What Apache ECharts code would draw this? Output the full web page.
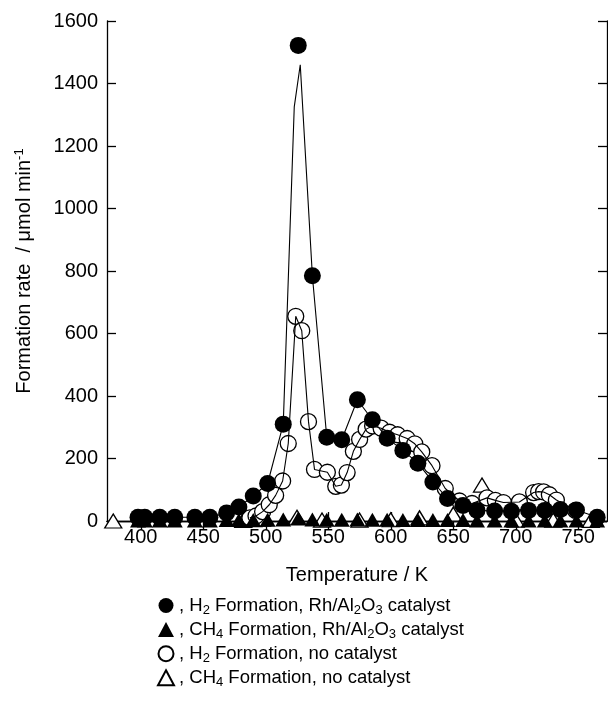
<!DOCTYPE html>
<html>
<head>
<meta charset="utf-8">
<script src="https://cdn.jsdelivr.net/npm/echarts@6/dist/echarts.min.js"></script>
<style>
html, body { margin: 0; padding: 0; background: #fff; }
#chart { width: 608px; height: 709px; }
</style>
</head>
<body>
<div id="chart"></div>
<script>
// H2 formation, Rh/Al2O3 catalyst (filled circles)
var h2CatT = [397.8, 403.2, 415.2, 427.2, 443.3, 455.3, 468.7, 478.5, 490, 501.5, 514, 526, 537.3, 548.8, 560.8, 573.3, 585.3, 597.1, 609.7, 621.7, 633.7, 645.4, 657.8, 669, 683.1, 696.5, 710.3, 723.2, 735.7, 748.6, 765.1];
var h2CatV = [12, 12, 12, 12, 12, 12, 26, 45, 80, 120, 310, 1522, 785, 268, 260, 388, 324, 265, 226, 185, 125, 72, 50, 34, 32, 31, 34, 34, 37, 35, 12];
// the drawn line for that series: its peak sits below the marker
var h2CatLineT = [397.8, 403.2, 415.2, 427.2, 443.3, 455.3, 468.7, 478.5, 490, 501.5, 514, 522.8, 527.6, 537.3, 548.8, 560.8, 573.3, 585.3, 597.1, 609.7, 621.7, 633.7, 645.4, 657.8, 669, 683.1, 696.5, 710.3, 723.2, 735.7, 748.6, 765.1];
var h2CatLineV = [12, 12, 12, 12, 12, 12, 26, 45, 80, 120, 310, 1325, 1460, 785, 268, 260, 388, 324, 265, 226, 185, 125, 72, 50, 34, 32, 31, 34, 34, 37, 35, 12];

// CH4 formation, Rh/Al2O3 catalyst (filled triangles), same temperatures
var ch4CatV = [2, 2, 2, 2, 2, 2, 3, 3, 3, 4, 5, 8, 5, 4, 4, 5, 4, 4, 3, 3, 3, 3, 3, 2, 2, 2, 2, 2, 2, 2, 2];

// H2 formation, no catalyst (open circles)
var h2NoCatT = [487.3, 492.2, 497.5, 502.8, 507.9, 513.5, 518, 524, 528.8, 534.2, 539, 549.3, 556, 560.5, 565.1, 570.1, 575.1, 580.3, 585.5, 592.3, 599.1, 605.5, 613.1, 619.2, 624.8, 633, 643.6, 655, 665, 677, 683.7, 690.1, 702.9, 714.3, 718.3, 722.3, 726.9, 732.5, 747.8];
var h2NoCatV = [10, 16, 30, 52, 82, 128, 248, 655, 609, 318, 165, 156, 111, 115, 155, 223, 261, 294, 304, 297, 284, 276, 264, 247, 221, 177, 104, 64, 56, 74, 66, 59, 61, 91, 94, 93, 84, 67, 34];

// CH4 formation, no catalyst (open triangles)
var ch4NoCatT = [378, 482, 490, 497, 525, 545, 575, 600, 623, 650, 673, 700, 730, 760];
var ch4NoCatV = [0, 2, 4, 6, 12, 3, 3, 4, 10, 22, 115, 3, 3, 2];

var xTicks = [400, 450, 500, 550, 600, 650, 700, 750];

var legendLabels = {
  h2Cat: ', H{sub|2} Formation, Rh/Al{sub|2}O{sub|3} catalyst',
  ch4Cat: ', CH{sub|4} Formation, Rh/Al{sub|2}O{sub|3} catalyst',
  h2NoCat: ', H{sub|2} Formation, no catalyst',
  ch4NoCat: ', CH{sub|4} Formation, no catalyst'
};

function pairs(xs, ys) {
  return xs.map(function (x, i) { return [x, ys[i]]; });
}

var font = 'Liberation Sans';
var axisLine = { lineStyle: { color: '#000', width: 1.3 } };

var chart = echarts.init(document.getElementById('chart'));
chart.setOption({
  animation: false,
  backgroundColor: '#fff',
  textStyle: { fontFamily: font, color: '#000' },
  grid: { left: 107, right: 1, top: 21, bottom: 188 },
  xAxis: [{
    type: 'value', min: 373, max: 773,
    name: 'Temperature / K', nameLocation: 'middle', nameGap: 44,
    nameTextStyle: { fontSize: 20, color: '#000', fontFamily: font },
    axisLine: axisLine, splitLine: { show: false },
    axisTick: { inside: true, length: 9, customValues: xTicks, lineStyle: { color: '#000', width: 1.3 } },
    axisLabel: { customValues: xTicks, fontSize: 20, color: '#000', margin: 6, fontFamily: font,
      formatter: function (v) { return String(v); } }
  }, {
    type: 'value', min: 373, max: 773, position: 'top',
    axisLine: axisLine, splitLine: { show: false },
    axisTick: { inside: true, length: 9, customValues: xTicks, lineStyle: { color: '#000', width: 1.3 } },
    axisLabel: { show: false }
  }],
  yAxis: [{
    type: 'value', min: 0, max: 1600, interval: 200,
    name: 'Formation rate  / μmol min{sup|-1}', nameLocation: 'middle', nameGap: 72, nameRotate: 90,
    nameTextStyle: { fontSize: 20, color: '#000', fontFamily: font,
      rich: { sup: { fontSize: 13, padding: [0, 0, 9, 0], fontFamily: font, color: '#000' } } },
    axisLine: axisLine, splitLine: { show: false },
    axisTick: { inside: true, length: 9, lineStyle: { color: '#000', width: 1.3 } },
    axisLabel: { fontSize: 20, color: '#000', margin: 9, fontFamily: font,
      formatter: function (v) { return String(v); } }
  }, {
    type: 'value', min: 0, max: 1600, interval: 200, position: 'right',
    axisLine: axisLine, splitLine: { show: false },
    axisTick: { inside: true, length: 9, lineStyle: { color: '#000', width: 1.3 } },
    axisLabel: { show: false }
  }],
  legend: {
    orient: 'vertical', left: 152, top: 591,
    itemWidth: 16, itemHeight: 15, itemGap: 3.6,
    data: ['h2Cat', 'ch4Cat', 'h2NoCat', 'ch4NoCat'],
    formatter: function (name) { return legendLabels[name]; },
    textStyle: {
      fontSize: 18.5, color: '#000', fontFamily: font,
      rich: { sub: { fontSize: 13, padding: [9, 0, 0, 0], fontFamily: font, color: '#000' } }
    }
  },
  series: [{
    name: 'h2CatLine', type: 'line', data: pairs(h2CatLineT, h2CatLineV),
    showSymbol: false, symbol: 'none', silent: true, clip: false,
    lineStyle: { color: '#000', width: 1.1 }
  }, {
    name: 'h2NoCatLine', type: 'line', data: pairs(h2NoCatT, h2NoCatV),
    showSymbol: false, symbol: 'none', silent: true, clip: false,
    lineStyle: { color: '#000', width: 1.1 }
  }, {
    name: 'ch4NoCat', type: 'scatter', data: pairs(ch4NoCatT, ch4NoCatV),
    symbol: 'triangle', symbolSize: [17, 14], clip: false,
    itemStyle: { color: '#fff', borderColor: '#000', borderWidth: 1.3, opacity: 1 }
  }, {
    name: 'h2NoCat', type: 'scatter', data: pairs(h2NoCatT, h2NoCatV),
    symbol: 'circle', symbolSize: 16, clip: false,
    itemStyle: { color: '#fff', borderColor: '#000', borderWidth: 1.3, opacity: 1 }
  }, {
    name: 'ch4Cat', type: 'scatter', data: pairs(h2CatT, ch4CatV),
    symbol: 'triangle', symbolSize: [16, 14], clip: false,
    itemStyle: { color: '#000', opacity: 1 }
  }, {
    name: 'h2Cat', type: 'scatter', data: pairs(h2CatT, h2CatV),
    symbol: 'circle', symbolSize: 17, clip: false,
    itemStyle: { color: '#000', opacity: 1 }
  }]
});
</script>
</body>
</html>
